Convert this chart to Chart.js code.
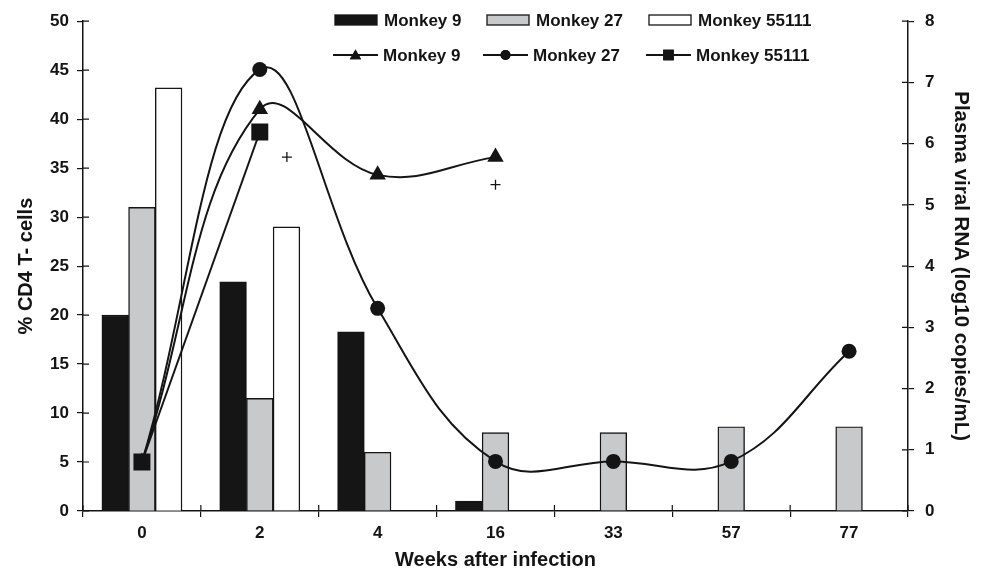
<!DOCTYPE html>
<html>
<head>
<meta charset="utf-8">
<script src="https://cdn.jsdelivr.net/npm/chart.js@4/dist/chart.umd.min.js"></script>
<style>
  html, body { margin: 0; padding: 0; background: #fff; }
  #wrap { width: 984px; height: 573px; }
</style>
</head>
<body>
<div id="wrap"><canvas id="c" width="984" height="573"></canvas></div>
<script>
// Weeks after infection (category labels)
const weeks = ['0', '2', '4', '16', '33', '57', '77'];

// % CD4 T-cells (bars, left axis)
const cd4Monkey9     = [20, 23.4, 18.3, 1, null, null, null];
const cd4Monkey27    = [31, 11.5, 6, 8, 8, 8.6, 8.6];
const cd4Monkey55111 = [43.2, 29, null, null, null, null, null];

// Plasma viral RNA, log10 copies/mL (lines, right axis)
const rnaMonkey9     = [0.8, 6.56, 5.49, 5.78, null, null, null];
const rnaMonkey27    = [0.8, 7.21, 3.31, 0.81, 0.81, 0.81, 2.61];
const rnaMonkey55111 = [0.8, 6.19, null, null, null, null, null];

// Separate "+" marks (position in category units, value)
const plusPositions = [1.23, 3];
const plusValues    = [5.78, 5.33];

const FONT = "'Liberation Sans', Arial, Helvetica, sans-serif";
const INK = '#141414';

// Width of one bar as a fraction of a category slot; three bars side by side per week
const BAR_FRAC = 0.2265;
const PLOT_W = 825;
const BAR_PX = BAR_FRAC * PLOT_W / weeks.length;

function toPoints(values) {
  const pts = [];
  values.forEach((v, i) => { if (v !== null) pts.push({ x: i, y: v }); });
  return pts;
}

// Hidden index axis for the k-th bar of each group, shifted so the three bars sit side by side
function barAxis(k) {
  const shift = (k - 1) * BAR_FRAC;
  return { type: 'linear', display: false, offset: false, min: -0.5 - shift, max: weeks.length - 0.5 - shift };
}

// Cross-style tick marks: Chart.js draws the outer half, this adds the inner half
const crossTicks = {
  id: 'crossTicks',
  afterDraw(chart) {
    const { ctx } = chart;
    const { x, y, y2 } = chart.scales;
    const len = 6;
    ctx.save();
    ctx.strokeStyle = INK;
    ctx.lineWidth = 1.2;
    ctx.beginPath();
    y.ticks.forEach((t, i) => {
      const p = y.getPixelForTick(i);
      ctx.moveTo(y.right, p); ctx.lineTo(y.right + len, p);
    });
    y2.ticks.forEach((t, i) => {
      const p = y2.getPixelForTick(i);
      ctx.moveTo(y2.left, p); ctx.lineTo(y2.left - len, p);
    });
    for (let i = 0; i <= weeks.length; i++) {
      const p = x.getPixelForValue(i - 0.5);
      ctx.moveTo(p, x.top); ctx.lineTo(p, x.top - len);
    }
    ctx.stroke();
    ctx.restore();
  }
};

// Two-row legend inside the plot: bar swatches on top, line + marker below
const dualLegend = {
  id: 'dualLegend',
  afterDraw(chart) {
    const { ctx } = chart;
    ctx.save();
    ctx.font = 'bold 17px ' + FONT;
    ctx.textBaseline = 'middle';
    ctx.textAlign = 'left';
    ctx.fillStyle = INK;

    const bars = [
      { x: 335, fill: INK, label: 'Monkey 9' },
      { x: 487, fill: '#c8c9cb', label: 'Monkey 27' },
      { x: 649, fill: '#ffffff', label: 'Monkey 55111' }
    ];
    const y1 = 20;
    bars.forEach(b => {
      ctx.fillStyle = b.fill;
      ctx.strokeStyle = INK;
      ctx.lineWidth = 1.3;
      ctx.fillRect(b.x, y1 - 5, 42, 10);
      ctx.strokeRect(b.x, y1 - 5, 42, 10);
      ctx.fillStyle = INK;
      ctx.fillText(b.label, b.x + 49, y1 + 1);
    });

    const y2 = 55;
    const lines = [
      { x: 333, style: 'triangle', label: 'Monkey 9' },
      { x: 483, style: 'circle', label: 'Monkey 27' },
      { x: 646, style: 'rect', label: 'Monkey 55111' }
    ];
    lines.forEach(l => {
      ctx.strokeStyle = INK;
      ctx.lineWidth = 1.8;
      ctx.beginPath();
      ctx.moveTo(l.x, y2); ctx.lineTo(l.x + 45, y2);
      ctx.stroke();
      ctx.fillStyle = INK;
      const r = l.style === 'rect' ? 7.5 : (l.style === 'triangle' ? 6.5 : 5);
      Chart.helpers.drawPoint(ctx, { pointStyle: l.style, radius: r, borderWidth: 0, rotation: 0 },
        l.x + 22.5, l.style === 'triangle' ? y2 + 1 : y2);
      ctx.fill();
      ctx.fillStyle = INK;
      ctx.fillText(l.label, l.x + 50, y2 + 1);
    });
    ctx.restore();
  }
};

Chart.defaults.font.family = FONT;
Chart.defaults.font.weight = 'bold';
Chart.defaults.color = INK;

const lineCommon = {
  type: 'line',
  xAxisID: 'xl',
  yAxisID: 'y2',
  borderColor: INK,
  backgroundColor: INK,
  pointBackgroundColor: INK,
  pointBorderColor: INK,
  borderWidth: 2,
  pointBorderWidth: 0,
  tension: 0.4,
  fill: false,
  order: 0
};

const barCommon = {
  type: 'bar',
  yAxisID: 'y',
  borderColor: INK,
  borderWidth: 1.4,
  borderSkipped: 'bottom',
  grouped: false,
  barThickness: BAR_PX,
  order: 1
};

new Chart(document.getElementById('c'), {
  type: 'bar',
  data: {
    labels: weeks,
    datasets: [
      Object.assign({}, lineCommon, {
        label: 'Monkey 55111 RNA', data: toPoints(rnaMonkey55111),
        pointStyle: 'rect', pointRadius: 12, tension: 0
      }),
      Object.assign({}, lineCommon, {
        label: 'Monkey 9 RNA', data: toPoints(rnaMonkey9),
        pointStyle: 'triangle', pointRadius: 9.5
      }),
      Object.assign({}, lineCommon, {
        label: 'Monkey 27 RNA', data: toPoints(rnaMonkey27),
        pointStyle: 'circle', pointRadius: 7.5
      }),
      Object.assign({}, lineCommon, {
        label: 'Marks', data: plusPositions.map((p, i) => ({ x: p, y: plusValues[i] })),
        showLine: false, pointStyle: 'cross', pointRadius: 5, pointBorderWidth: 1.3
      }),
      Object.assign({}, barCommon, { label: 'Monkey 9', xAxisID: 'xb0', data: toPoints(cd4Monkey9), backgroundColor: '#151515' }),
      Object.assign({}, barCommon, { label: 'Monkey 27', xAxisID: 'xb1', data: toPoints(cd4Monkey27), backgroundColor: '#c8c9cb' }),
      Object.assign({}, barCommon, { label: 'Monkey 55111', xAxisID: 'xb2', data: toPoints(cd4Monkey55111), backgroundColor: '#ffffff' })
    ]
  },
  options: {
    responsive: false,
    animation: false,
    layout: { padding: { top: 20, right: 0, bottom: 0, left: 0 } },
    plugins: {
      legend: { display: false },
      tooltip: { enabled: false }
    },
    scales: {
      x: {
        type: 'category',
        position: 'bottom',
        offset: true,
        grid: { display: true, drawOnChartArea: false, drawTicks: true, tickLength: 6, color: INK, lineWidth: 1.2, offset: true },
        border: { display: true, color: INK, width: 1.5 },
        ticks: { font: { size: 17, weight: 'bold' }, padding: 6, color: INK },
        title: { display: true, text: 'Weeks after infection', font: { size: 20, weight: 'bold' }, padding: { top: 0, bottom: 1 }, color: INK },
        afterFit(s) { s.height = 62; }
      },
      xl: { type: 'linear', display: false, offset: false, min: -0.5, max: weeks.length - 0.5 },
      xb0: barAxis(0),
      xb1: barAxis(1),
      xb2: barAxis(2),
      y: {
        type: 'linear',
        position: 'left',
        min: 0, max: 50,
        ticks: { stepSize: 5, font: { size: 17, weight: 'bold' }, padding: 8, color: INK },
        grid: { drawOnChartArea: false, drawTicks: true, tickLength: 6, color: INK, lineWidth: 1.2 },
        border: { display: true, color: INK, width: 1.5 },
        title: { display: true, text: '% CD4 T- cells', font: { size: 20, weight: 'bold' }, padding: { top: 14, bottom: 0 }, color: INK },
        afterFit(s) { s.width = 83; }
      },
      y2: {
        type: 'linear',
        position: 'right',
        min: 0, max: 8,
        ticks: { stepSize: 1, font: { size: 17, weight: 'bold' }, padding: 11, color: INK },
        grid: { drawOnChartArea: false, drawTicks: true, tickLength: 6, color: INK, lineWidth: 1.2 },
        border: { display: true, color: INK, width: 1.5 },
        title: { display: true, text: 'Plasma viral RNA (log10 copies/mL)', font: { size: 20.5, weight: 'bold' }, padding: { top: 11, bottom: 0 }, color: INK },
        afterFit(s) { s.width = 76; }
      }
    }
  },
  plugins: [crossTicks, dualLegend]
});
</script>
</body>
</html>
